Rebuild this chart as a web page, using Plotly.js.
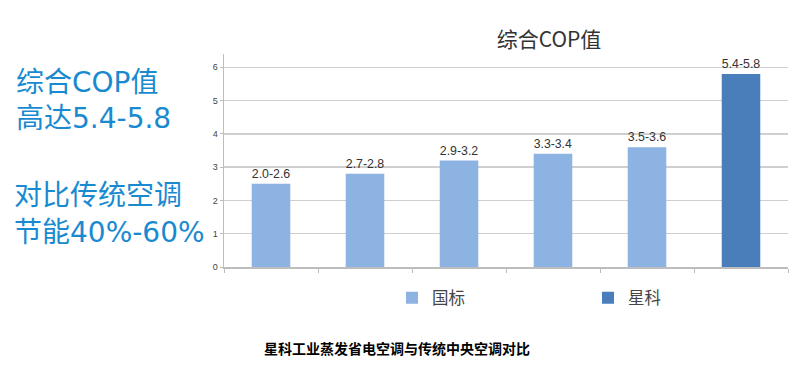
<!DOCTYPE html>
<html>
<head>
<meta charset="utf-8">
<script src="https://cdn.plot.ly/plotly-3.0.1.min.js"></script>
<style>html,body{margin:0;padding:0;background:#fff;}#chart{width:800px;height:378px;}</style>
</head>
<body>
<div id="chart"></div>
<script>
const categories = ["2.0-2.6", "2.7-2.8", "2.9-3.2", "3.3-3.4", "3.5-3.6", "5.4-5.8"];
const gbLabels = ["2.0-2.6", "2.7-2.8", "2.9-3.2", "3.3-3.4", "3.5-3.6"];
const gbValues = [2.5, 2.8, 3.2, 3.4, 3.6];
const xkLabels = ["5.4-5.8"];
const xkValues = [5.8];
const seriesNames = ["国标", "星科"];
const yTicks = [0, 1, 2, 3, 4, 5, 6];

const font = '"Noto Sans CJK SC", "Noto Sans", sans-serif';
const sideFont = '"DejaVu Sans", "Noto Sans CJK SC", sans-serif';
const L = 224, R = 788, T = 54, B = 267;
const px = x => (x - L) / (R - L);
const py = y => (B - y) / (B - T);

const labelFont = {size: 13.5, color: '#333', family: 'Arial, "Liberation Sans", sans-serif'};
const traces = [
  {type: 'bar', name: seriesNames[0], x: gbLabels, y: gbValues, text: gbLabels,
   textposition: 'outside', cliponaxis: false, width: 0.41, textfont: labelFont,
   marker: {color: '#8db3e2', line: {color: '#8db3e2', width: 0}}},
  {type: 'bar', name: seriesNames[1], x: xkLabels, y: xkValues, text: xkLabels,
   textposition: 'outside', cliponaxis: false, width: 0.41, textfont: labelFont,
   marker: {color: '#4a7ebb', line: {color: '#4a7ebb', width: 0}}}
];

const blue = '#1a8ad0';
const side = (t, x, y) => ({text: t, x: px(x), y: py(y), xref: 'paper', yref: 'paper',
  xanchor: 'left', yanchor: 'middle', showarrow: false,
  font: {size: 28, color: blue, family: sideFont}});

const layout = {
  width: 800, height: 378,
  margin: {l: L, r: 800 - R, t: T, b: 378 - B, pad: 0, autoexpand: false},
  paper_bgcolor: '#fff', plot_bgcolor: '#fff',
  barmode: 'overlay',
  font: {family: font, color: '#333'},
  title: {text: '综合COP值', x: 549 / 800, xanchor: 'center', xref: 'container',
          y: 1 - 40 / 378, yanchor: 'middle', yref: 'container',
          font: {size: 21, color: '#333', family: font}},
  xaxis: {type: 'category', categoryorder: 'array', categoryarray: categories,
          range: [-0.5, categories.length - 0.5],
          showticklabels: false, showgrid: false, zeroline: false,
          showline: true, linecolor: '#bdbdbd', linewidth: 1.5,
          ticks: 'outside', tickson: 'boundaries', ticklen: 4, tickcolor: '#bdbdbd'},
  yaxis: {range: [0, 6.4], tickvals: yTicks, ticktext: yTicks.map(String),
          showgrid: true, gridcolor: '#cfcfcf', gridwidth: 1.5, zeroline: false,
          showline: true, linecolor: '#bdbdbd', linewidth: 1.5,
          ticks: 'outside', ticklen: 3, tickcolor: '#bdbdbd',
          tickfont: {size: 9, color: '#444', family: 'Arial, "Liberation Sans", sans-serif'}},
  showlegend: true,
  legend: {orientation: 'h', x: px(392), xanchor: 'left', y: py(298), yanchor: 'middle',
           entrywidth: 151, entrywidthmode: 'pixels', itemwidth: 30,
           font: {size: 16.5, color: '#444', family: font}, bgcolor: 'rgba(0,0,0,0)'},
  annotations: [
    side('综合COP值', 14, 82),
    side('高达5.4-5.8', 14, 119),
    side('对比传统空调', 12, 195),
    side('节能40%-60%', 12, 232),
    {text: '<b>星科工业蒸发省电空调与传统中央空调对比</b>', x: px(397), y: py(348), xref: 'paper', yref: 'paper',
     xanchor: 'center', yanchor: 'middle', showarrow: false, font: {size: 14, color: '#000', family: font}}
  ]
};

Plotly.newPlot('chart', traces, layout, {displayModeBar: false, staticPlot: true});
</script>
</body>
</html>
